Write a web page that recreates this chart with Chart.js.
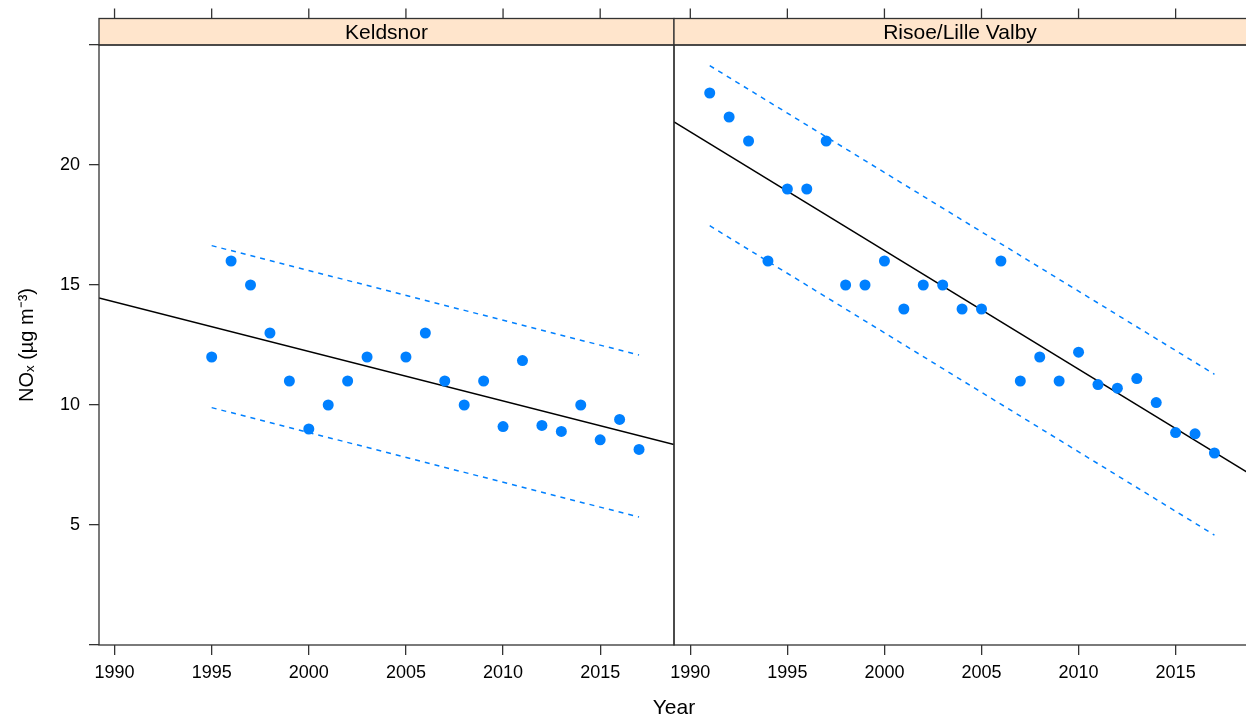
<!DOCTYPE html>
<html>
<head>
<meta charset="utf-8">
<title>NOx trend - Keldsnor, Risoe/Lille Valby</title>
<script src="https://cdn.jsdelivr.net/npm/chart.js@4/dist/chart.umd.min.js"></script>
<style>
  html, body { margin: 0; padding: 0; background: #fff; }
  #wrap { position: relative; width: 1246px; height: 718px; overflow: hidden; }
  .painel { position: absolute; top: 0; height: 718px; }
  #painelEsq { left: 0; width: 680px; }
  /* o painel da direita fica cortado na borda, como no original */
  #painelDir { left: 654px; width: 595px; }
  #tituloX { position: absolute; left: 574px; width: 200px; top: 695px; text-align: center;
             font: 21px "Liberation Sans", Arial, sans-serif; line-height: 24px; color: #000; }
</style>
</head>
<body>
<div id="wrap">
  <div class="painel" id="painelEsq"><canvas id="chartKeld"></canvas></div>
  <div class="painel" id="painelDir"><canvas id="chartRisoe"></canvas></div>
  <div id="tituloX">Year</div>
</div>
<script>
// Dados (NOx, ug/m3)
const keldYears = [1995, 1996, 1997, 1998, 1999, 2000, 2001, 2002, 2003,
                   2005, 2006, 2007, 2008, 2009, 2010, 2011, 2012, 2013, 2014, 2015, 2016, 2017];
const keldNox   = [12, 16, 15, 13, 11, 9, 10, 11, 12,
                   12, 13, 11, 10, 11, 9.1, 11.85, 9.15, 8.9, 10, 8.55, 9.4, 8.15];

const risoeYears = [1991, 1992, 1993, 1994, 1995, 1996, 1997, 1998, 1999, 2000, 2001, 2002, 2003, 2004,
                    2005, 2006, 2007, 2008, 2009, 2010, 2011, 2012, 2013, 2014, 2015, 2016, 2017];
const risoeNox   = [23, 22, 21, 16, 19, 19, 21, 15, 15, 16, 14, 15, 15, 14,
                    14, 16, 11, 12, 11, 12.2, 10.85, 10.7, 11.1, 10.1, 8.85, 8.8, 8.0];

// Rectas de tendencia e limites (extremos)
const keldTrendX  = [1989.2, 2018.8];
const keldTrendY  = [14.46, 8.35];
const keldBandX   = [1995, 2017];
const keldUpperY  = [16.64, 12.08];
const keldLowerY  = [9.89, 5.33];

const risoeTrendX = [1989.16, 2018.78];
const risoeTrendY = [21.8, 7.15];
const risoeBandX  = [1991, 2017];
const risoeUpperY = [24.14, 11.28];
const risoeLowerY = [17.47, 4.58];

// Eixos
const xTicks = [1990, 1995, 2000, 2005, 2010, 2015];
const yTicks = [0, 5, 10, 15, 20, 25];
const yLabelled = [5, 10, 15, 20];

const cor = { ponto: '#0080ff', linha: '#000000', eixo: '#333333', faixa: '#ffe5cc' };

Chart.defaults.font.family = '"Liberation Sans", Arial, sans-serif';
Chart.defaults.color = '#000';
Chart.defaults.animation = false;

const pares = (xs, ys) => xs.map((x, i) => ({ x, y: ys[i] }));

// Faixa com o nome do painel, moldura e marcas no topo (estilo lattice)
const painelPlugin = {
  id: 'painel',
  afterDraw(chart, args, opts) {
    const { ctx, chartArea: a, scales: { x } } = chart;
    const topoFaixa = a.top - 26.5;
    const w = a.right - a.left;
    ctx.save();
    ctx.fillStyle = cor.faixa;
    ctx.fillRect(a.left, topoFaixa, w, a.top - topoFaixa);
    ctx.strokeStyle = cor.eixo;
    ctx.lineWidth = 1.3;
    ctx.strokeRect(a.left, topoFaixa, w, a.top - topoFaixa);
    ctx.strokeRect(a.left, a.top, w, a.bottom - a.top);
    x.ticks.forEach(t => {
      const px = x.getPixelForValue(t.value);
      ctx.beginPath();
      ctx.moveTo(px, topoFaixa - 10);
      ctx.lineTo(px, topoFaixa);
      ctx.stroke();
    });
    ctx.fillStyle = '#000';
    ctx.font = '21px "Liberation Sans", Arial, sans-serif';
    ctx.textAlign = 'center';
    ctx.textBaseline = 'middle';
    ctx.fillText(opts.label, opts.centroX ?? (a.left + a.right) / 2, (topoFaixa + a.top) / 2 + 1);
    ctx.restore();
  }
};

function grafico(canvasId, titulo, anos, valores, trendX, trendY, bandX, upperY, lowerY,
                 xMin, xMax, comEixoY, pad, centroX) {
  return new Chart(document.getElementById(canvasId), {
    type: 'scatter',
    data: {
      datasets: [
        { data: pares(anos, valores), backgroundColor: cor.ponto, borderWidth: 0,
          pointRadius: 5.5, pointHoverRadius: 5.5 },
        { data: pares(trendX, trendY), showLine: true, borderColor: cor.linha, borderWidth: 1.5,
          pointRadius: 0 },
        { data: pares(bandX, upperY), showLine: true, borderColor: cor.ponto, borderWidth: 1.5,
          borderDash: [5, 5], pointRadius: 0 },
        { data: pares(bandX, lowerY), showLine: true, borderColor: cor.ponto, borderWidth: 1.5,
          borderDash: [5, 5], pointRadius: 0 }
      ]
    },
    options: {
      responsive: true,
      maintainAspectRatio: false,
      events: [],
      layout: { autoPadding: false,
                padding: { top: 45, bottom: 33, left: pad.left, right: pad.right } },
      plugins: { legend: { display: false }, tooltip: { enabled: false },
                 painel: { label: titulo, centroX } },
      scales: {
        x: {
          type: 'linear', min: xMin, max: xMax,
          afterBuildTicks: (s) => { s.ticks = xTicks.map(v => ({ value: v })); },
          // sem folgas extra para as etiquetas das pontas
          afterFit: (s) => { s.height = 40; s.paddingLeft = 0; s.paddingRight = 0; },
          grid: { drawOnChartArea: false, tickLength: 10, color: cor.eixo, lineWidth: 1.3 },
          border: { display: false },
          ticks: { padding: 7, font: { size: 18 }, maxRotation: 0, callback: (v) => String(v) }
        },
        y: {
          display: comEixoY,
          min: 0, max: 25,
          afterBuildTicks: (s) => { s.ticks = yTicks.map(v => ({ value: v })); },
          afterFit: (s) => { s.width = comEixoY ? 99 : 0; s.paddingTop = 0; s.paddingBottom = 0; },
          grid: { drawOnChartArea: false, tickLength: 10, color: cor.eixo, lineWidth: 1.3 },
          border: { display: false },
          ticks: { padding: 9, font: { size: 18 },
                   callback: (v) => yLabelled.includes(v) ? String(v) : '' },
          title: { display: true, text: 'NOₓ (µg m⁻³)', font: { size: 20 }, padding: { top: 15 } }
        }
      }
    },
    plugins: [painelPlugin]
  });
}

grafico('chartKeld', 'Keldsnor', keldYears, keldNox, keldTrendX, keldTrendY,
        keldBandX, keldUpperY, keldLowerY, 1989.2, 2018.8, true, { left: 0, right: 6 });
// o nome fica centrado na parte visivel do painel (674..1246 na pagina)
grafico('chartRisoe', 'Risoe/Lille Valby', risoeYears, risoeNox, risoeTrendX, risoeTrendY,
        risoeBandX, risoeUpperY, risoeLowerY, 1989.16, 2018.78, false, { left: 20, right: 0 }, 20 + 286);
</script>
</body>
</html>
